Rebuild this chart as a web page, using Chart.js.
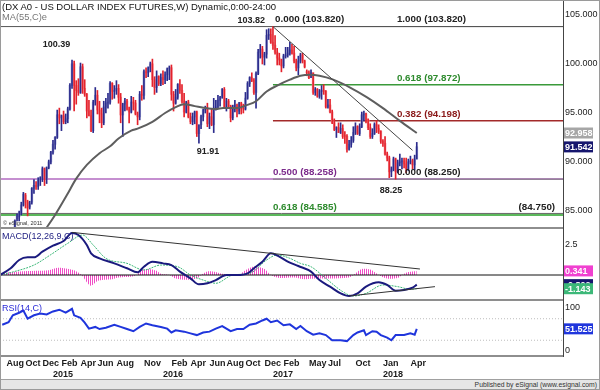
<!DOCTYPE html>
<html>
<head>
<meta charset="utf-8">
<title>US Dollar Index Futures - weekly</title>
<script src="https://cdn.jsdelivr.net/npm/chart.js@4.4.1/dist/chart.umd.min.js"></script>
<style>
  html, body { margin:0; padding:0; background:#fff; }
  #wrap { position:relative; width:600px; height:390px; overflow:hidden; font-family:"Liberation Sans", Arial, sans-serif; background:#fff; }
  #wrap canvas { position:absolute; left:0; }
  .t { position:absolute; white-space:nowrap; line-height:11px; }
  .sep { position:absolute; left:0; width:563px; height:2px; background:#8e8e8e; }
</style>
</head>
<body>
<div id="wrap">
  <canvas id="cPrice" width="600" height="228" style="top:0"></canvas>
  <canvas id="cMacd" width="600" height="72" style="top:228px"></canvas>
  <canvas id="cRsi" width="600" height="79" style="top:300px"></canvas>
  <div class="sep" style="top:227px"></div>
  <div class="sep" style="top:299px"></div>
  <div class="sep" style="top:355px"></div>
  <div class="t" style="left:2px;top:1px;font-size:9.5px;color:#111">(DX A0 - US DOLLAR INDEX FUTURES,W) Dynamic,0:00-24:00</div>
  <div class="t" style="left:2px;top:12px;font-size:9.3px;color:#777">MA(55,C)e</div>
  <div class="t" style="left:3px;top:218px;font-size:5.6px;color:#333">© eSignal, 2011</div>
  <div class="t" style="left:2px;top:231px;font-size:9px;color:#1c1c80">MACD(12,26,9,C)</div>
  <div class="t" style="left:2px;top:303px;font-size:9px;color:#2a2ad8">RSI(14,C)</div>
  <div style="position:absolute;left:0;top:379px;width:600px;height:11px;background:#e6e6e6;border-top:1px solid #a0a0a0;"></div>
  <div class="t" style="right:3px;top:379px;font-size:6.8px;color:#333">Published by eSignal (www.esignal.com)</div>
  <div style="position:absolute;left:0;top:0;width:600px;height:390px;box-sizing:border-box;border:1px solid #9a9a9a;pointer-events:none;"></div>
</div>
<script>
// ---------------- DATA ----------------
const WEEK0 = '2014-07-07';      // week number 0 of the x axis
const FIRST_BAR_WEEK = 7;         // first bar: week of 2014-08-25

const opens = [
  82.4,82.8,84.2,84.4,84.8,85.6,86.6,85.9,85.4,85.9,87.3,87.6,87.5,88.3,88.4,89.3,88.4,89.4,90.0,
  91.0,91.8,92.5,94.8,94.5,94.7,94.1,94.4,95.4,97.8,100.0,97.8,97.3,97.1,99.7,97.5,96.9,95.2,94.7,93.2,96.1,96.8,95.3,94.9,94.0,95.6,96.0,96.1,98.0,97.2,97.3,97.5,96.6,94.8,95.9,96.2,95.4,95.1,96.1,96.0,94.9,94.6,96.9,96.8,99.2,99.1,99.6,100.0,98.4,97.6,98.7,98.0,
  98.6,98.4,98.9,99.5,99.6,96.9,96.0,96.6,97.9,97.3,96.2,95.1,96.1,94.6,94.1,94.6,95.1,92.9,93.8,94.6,95.3,95.5,93.9,94.6,93.8,95.4,95.6,96.3,96.6,97.4,95.6,96.2,95.7,94.5,95.6,95.8,95.2,96.0,95.5,95.4,96.5,98.0,98.6,98.3,97.1,99.0,101.2,101.5,100.7,101.0,102.9,103.0,
  102.2,101.9,101.2,100.6,100.4,99.8,100.8,100.9,101.1,101.4,101.1,100.3,99.6,100.3,100.9,100.3,99.2,99.1,98.6,99.1,97.1,97.4,96.7,97.2,97.3,97.2,95.6,95.8,95.1,94.0,93.3,93.5,93.0,93.4,92.7,92.6,91.3,91.8,92.2,93.0,93.6,92.9,93.6,94.8,94.9,94.3,93.5,92.6,92.9,93.8,93.4,93.1,
  92.1,91.9,90.8,90.4,89.0,89.2,90.3,89.0,89.9,90.0,90.1,89.8,89.3,90.0,90.1,89.7,90.3
];
const highs = [
  82.8,84.1,84.7,85.0,85.9,86.9,86.8,86.1,86.0,87.4,88.2,88.0,88.4,88.5,89.5,89.4,89.5,90.2,91.1,
  92.2,92.6,95.3,95.5,94.8,95.2,94.9,95.6,98.0,100.39,100.3,98.3,98.5,100.1,100.0,98.4,97.0,96.3,95.3,96.3,97.6,97.3,96.2,95.5,96.2,96.5,97.0,98.2,98.1,97.8,98.3,97.9,97.0,96.0,96.5,96.4,95.6,96.7,96.6,96.3,95.1,97.2,97.8,99.4,99.6,99.7,100.2,100.5,98.7,99.3,98.8,99.0,
  99.3,99.2,99.6,99.8,99.9,97.2,97.4,98.0,98.4,97.9,97.0,96.2,96.3,95.0,95.0,95.2,95.2,93.8,94.8,95.4,95.7,96.0,95.0,95.4,96.5,96.3,96.8,96.7,97.5,97.6,96.5,96.4,95.8,95.8,96.3,95.9,96.1,96.1,95.9,97.1,98.2,98.7,99.1,98.5,99.2,101.5,102.0,101.8,101.2,103.5,103.6,103.6,
  103.82,102.9,101.6,101.1,100.5,101.0,101.7,101.7,102.2,102.0,101.8,100.5,100.8,101.1,101.1,100.4,99.4,99.3,99.4,99.1,97.6,97.5,97.4,97.8,97.9,97.3,96.4,96.4,95.3,94.4,93.6,94.0,94.0,93.8,93.1,92.8,92.2,92.6,93.6,94.0,93.7,93.9,95.1,95.2,95.0,94.4,93.9,93.4,94.0,94.2,93.8,93.2,
  92.3,92.6,91.0,90.6,89.5,90.5,90.4,90.2,90.8,90.4,90.4,90.4,90.3,90.6,90.3,90.7,92.0
];
const lows = [
  82.3,82.7,84.0,84.0,84.6,85.5,85.3,84.5,85.2,85.7,86.8,87.2,87.2,87.6,88.0,87.6,87.8,89.3,89.8,
  90.8,91.3,92.4,93.9,93.2,93.9,93.9,94.0,95.3,97.5,95.2,95.9,96.8,97.0,97.0,96.7,94.5,94.7,93.1,93.0,95.8,94.9,94.0,93.5,93.8,95.0,95.5,95.9,96.4,96.5,96.9,96.0,94.0,92.6,95.2,95.3,94.0,95.0,95.3,94.8,93.8,94.3,96.3,96.4,98.6,98.7,99.2,97.7,96.9,97.1,97.8,97.8,
  97.9,98.0,98.3,98.4,96.3,95.2,95.9,96.4,97.0,96.0,94.6,95.0,94.5,93.9,93.8,93.9,92.6,91.91,93.4,94.2,95.0,93.6,93.4,93.7,93.0,95.3,95.5,95.7,96.5,95.5,95.2,95.5,94.1,94.3,95.1,94.6,94.9,94.9,95.0,95.3,96.4,97.7,98.2,96.9,95.5,98.9,100.6,100.0,99.9,100.6,102.5,102.1,
  101.5,101.0,99.9,99.9,99.2,99.6,100.6,100.7,100.9,101.0,100.1,99.3,98.9,100.1,100.1,99.6,98.8,98.5,98.6,96.9,96.8,96.6,96.5,96.4,96.9,95.5,95.5,95.0,93.9,93.2,92.5,93.0,92.9,92.4,91.9,91.0,91.2,91.5,92.0,92.8,92.8,92.7,93.5,94.2,94.0,93.3,92.4,92.4,92.8,93.0,92.9,91.9,
  91.6,90.7,90.1,88.4,88.5,89.1,88.25,88.9,89.6,89.3,89.4,88.9,89.1,89.8,89.3,89.2,90.3
];
const closes = [
  82.75,84.0,84.5,84.8,85.6,86.7,85.9,85.3,85.8,87.3,87.6,87.5,88.3,88.4,89.3,88.4,89.4,90.0,91.0,
  91.8,92.5,94.8,94.5,94.7,94.1,94.4,95.4,97.8,100.0,97.8,97.3,97.1,99.7,97.5,96.9,95.2,94.7,93.2,96.1,96.8,95.3,94.9,94.0,95.6,96.0,96.1,98.0,97.2,97.3,97.5,96.6,94.8,95.9,96.2,95.4,95.1,96.1,96.0,94.9,94.6,96.9,96.8,99.2,99.1,99.6,100.0,98.4,97.6,98.7,98.0,98.6,
  98.4,98.9,99.5,99.6,96.9,96.0,96.6,97.9,97.3,96.2,95.1,96.1,94.6,94.1,94.6,95.1,92.9,93.8,94.6,95.3,95.5,93.9,94.6,93.8,95.4,95.6,96.3,96.6,97.4,95.6,96.2,95.7,94.5,95.6,95.8,95.2,96.0,95.5,95.4,96.5,98.0,98.6,98.3,97.1,99.0,101.2,101.5,100.7,101.0,102.9,103.0,102.2,
  101.9,101.2,100.6,100.4,99.8,100.8,100.9,101.1,101.4,101.1,100.3,99.6,100.3,100.9,100.3,99.7,99.1,98.6,99.1,97.1,97.4,96.7,97.2,97.3,97.2,95.6,95.8,95.1,94.0,93.3,93.5,93.0,93.4,92.6,92.6,91.3,91.8,92.2,93.0,93.6,92.9,93.6,94.8,94.9,94.3,93.5,92.6,92.9,93.8,93.4,93.1,92.1,
  91.9,90.8,90.4,89.0,89.2,90.3,89.0,89.9,90.0,90.1,89.8,89.3,90.0,90.1,89.7,90.3,91.542
];

// MA(55): [week number] / value
const maWeeks  = [22,27,32.5,37,42,48,53,57,63,66,73,79,84,88,93,98,103,106.5,113,117.5,122,127,132,138,143,147.5,152,158.5,166.5,174.5,182,190,198];
const maValues = [83.0,84.6,86.6,88.3,89.7,90.9,91.6,92.4,93.2,93.4,94.1,95.0,95.6,95.9,95.7,95.5,95.4,95.5,95.5,95.8,96.2,97.2,97.8,98.4,98.8,98.9,98.8,98.4,97.6,96.6,95.5,94.2,92.958];

// MACD(12,26,9)
const macdWeeks  = [1,6,10,14,17,21,26,31,35,38,42,44,48,55,61,66,69,73,78,82,86,91,95,99,103,108,113,118,121,125,129,133,137,142,148,152,157,162,166,170,174,180,184,188,192,196,198];
const macdValues = [0,0.56,1.25,1.47,1.47,1.94,2.44,2.83,3.5,3.33,2.5,1.81,1.39,0.97,0.56,0.22,0.69,1.11,0.97,0.83,0.28,-0.28,-0.78,-0.69,-0.42,0,0,0.14,0.56,1.11,1.81,1.53,1.11,0.75,0.28,-0.42,-0.97,-1.53,-1.75,-1.53,-0.97,-0.61,-0.83,-1.31,-1.25,-1.06,-0.802];
const signalWeeks  = [1,8,17,25,33,40,45,51,61,69,77,85,91,97,103,111,119,127,132,138,143,148,155,163,168,174,182,189,195,198];
const signalValues = [0,0.3,0.83,1.7,2.64,3.33,2.5,1.39,0.97,0.42,0.83,0.69,0,-0.42,-0.69,0,0.14,1.25,1.67,1.39,0.97,0.69,-0.28,-1.39,-1.75,-1.53,-0.83,-0.97,-1.19,-1.143];
const histWeeks  = [1,4,10,18,24,28,32,36,39.5,42,44,47,50,54,57,63,65.5,68,71,75,77,81,84,89,94,96,99,103,106,114,117,121,126,129,133,140,145,150,157,166,168,172,176,180,184,189,191,194,198];
const histValues = [0,0.2,0.3,0.35,0.4,0.6,0.55,0.4,0,-0.6,-0.9,-0.5,-0.4,-0.35,-0.2,-0.15,0,0.4,0.5,0.35,0.1,0,-0.3,-0.4,-0.3,0,0.3,0.25,0.1,0.05,0.4,0.7,0.5,0,-0.25,-0.2,-0.35,-0.3,-0.3,-0.2,0,0.5,0.45,0,-0.3,-0.25,0,0.25,0.341];

// RSI(14)
const rsiWeeks  = [2,5,7,10,12,14,17,20,23,26,29,32,35,36,39,41,43,46,48,51,55,58,61,64,67,70,73,77,80,82,84,88,91,94,97,100,103,106,110,113,116,119,122,125,127,129,132,135,138,141,143,146,149,152,155,158,162,165,168,170,173,174,177,179,181,184,186,188,192,195,197,198];
const rsiValues = [61,67,83,89,94,75,83,87,85,92,96,89,98,83,77,66,52,56,51,54,61,56,51,46,56,64,60,56,52,43,48,45,41,37,43,45,52,58,46,51,51,61,64,71,75,67,71,60,62,51,58,46,38,41,37,25,25,23,37,43,48,37,46,45,37,31,25,37,37,41,38,51.525];

// Fibonacci levels
const fibRatiosA = [0.000, 0.382, 0.618, 1.000];        // 103.82 -> 88.25 retracement
const fibLevelsA = [88.250, 94.198, 97.872, 103.820];
const fibRatiosB = [0.000, 0.500, 0.618];               // long-term retracement
const fibLevelsB = [103.820, 88.258, 84.585];
const extraLevel = 84.750;

// trendlines: [week, value]
const priceTrend = [[130, 103.82], [196, 91.19]];
const macdTrendUpper = [[35, 3.55], [199.5, 0.5]];
const macdTrendLower = [[166, -1.75], [206.6, -0.97]];

// axis ticks
const priceTicks = [85, 90, 95, 100, 105];
const macdTicks = [2.5];
const rsiTicks = [0, 100];
const rsiBands = [75, 25];
const monthTickDates  = ['2014-08','2014-10','2014-12','2015-02','2015-04','2015-06','2015-08','2015-11','2016-02','2016-04','2016-06','2016-08','2016-10','2016-12','2017-02','2017-05','2017-07','2017-10','2018-01','2018-04'];
const monthTickLabels = ['Aug','Oct','Dec','Feb','Apr','Jun','Aug','Nov','Feb','Apr','Jun','Aug','Oct','Dec','Feb','May','Jul','Oct','Jan','Apr'];
const yearTickDates  = ['2015-01','2016-01','2017-01','2018-01'];
const yearTickLabels = ['2015','2016','2017','2018'];

// ---------------- LAYOUT / STYLE ----------------
const X_MIN = 0.9456, X_MAX = 267.14;
const AXIS_W = 37;
const FONT = '"Liberation Sans", Arial, sans-serif';
Chart.defaults.font.family = FONT;
Chart.defaults.color = '#222';
Chart.defaults.animation = false;

const DAY = 86400000;
function monthWeek(ym) {
  const d = Date.UTC(+ym.slice(0,4), +ym.slice(5,7) - 1, 1);
  return Math.ceil((d - Date.parse(WEEK0)) / (7 * DAY));
}
const pts = (ks, vs) => ks.map((k, i) => ({x: k, y: vs[i]}));
const seg = (p) => p.map(([k, v]) => ({x: k, y: v}));
const hline = (v, from, to) => [{x: from, y: v}, {x: to, y: v}];

function lineDS(data, color, width, order, extra) {
  return Object.assign({type: 'line', data, borderColor: color, borderWidth: width, pointRadius: 0,
    fill: false, tension: 0, order}, extra || {});
}

const xHidden = () => ({type: 'linear', min: X_MIN, max: X_MAX, offset: false, display: false, grid: {offset: false}});
function yRight(min, max, ticks, fmt) {
  return {
    type: 'linear', position: 'right', min, max,
    grid: {display: false, drawTicks: false},
    border: {display: true, color: '#444', width: 1},
    afterBuildTicks: s => { s.ticks = ticks.map(v => ({value: v})); },
    afterFit: s => { s.width = AXIS_W; s.paddingTop = 0; s.paddingBottom = 0; },
    ticks: {padding: 2, color: '#222', font: {size: 9}, autoSkip: false, callback: v => fmt(v)}
  };
}

function notesPlugin(items) {
  return { id: 'notes', afterDatasetsDraw(chart) {
    const {ctx, scales: {x, y}} = chart;
    items.forEach(n => {
      ctx.save();
      ctx.font = n.font; ctx.fillStyle = n.color;
      ctx.textAlign = n.align || 'left'; ctx.textBaseline = n.base || 'bottom';
      ctx.fillText(n.text, x.getPixelForValue(n.k), y.getPixelForValue(n.v) + (n.dy || 0));
      ctx.restore();
    });
  }};
}
function boxesPlugin(items) {
  return { id: 'valueBoxes', afterDraw(chart) {
    const {ctx, chartArea, scales: {y}} = chart;
    items.forEach(b => {
      const py = y.getPixelForValue(b.value);
      ctx.save();
      ctx.fillStyle = b.bg;
      ctx.fillRect(chartArea.right + 1, py - 5.5, 29, 11);
      ctx.fillStyle = b.fg || '#fff';
      ctx.font = 'bold 9px ' + FONT;
      ctx.textAlign = 'left'; ctx.textBaseline = 'middle';
      ctx.fillText(b.text, chartArea.right + 2, py + 0.5);
      ctx.restore();
    });
  }};
}

// ---------------- PRICE PANEL ----------------
const barWeeks = opens.map((_, i) => FIRST_BAR_WEEK + i);
const isUp = opens.map((o, i) => closes[i] >= o);
const bodyData = opens.map((o, i) => ({x: barWeeks[i], y: [Math.min(o, closes[i]), Math.max(o, closes[i]) + 0.02]}));
const wickData = opens.map((o, i) => ({x: barWeeks[i], y: [lows[i], highs[i]]}));

const fibColorsA = ['#7a7a7a', '#a32a2a', '#3a9a3a', '#555555'];
const fibTextA   = ['#222222', '#8b1a1a', '#2e8b2e', '#222222'];
const fibColorsB = ['#555555', '#c58fd0', '#5cb85c'];
const fibTextB   = ['#222222', '#7b2a8b', '#2e8b2e'];
const fibWidthA  = [1, 1.5, 1.5, 1];
const fibWidthB  = [1, 2, 2];
const FIB_A_START = 130;

const fibDatasets = [];
fibLevelsA.forEach((lv, i) => fibDatasets.push(lineDS(hline(lv, FIB_A_START, X_MAX), fibColorsA[i], fibWidthA[i], 10)));
fibLevelsB.forEach((lv, i) => fibDatasets.push(lineDS(hline(lv, X_MIN, X_MAX), fibColorsB[i], fibWidthB[i], 11)));
fibDatasets.push(lineDS(hline(extraLevel, X_MIN, X_MAX), '#666666', 1, 12));

const fmtFib = (r, lv) => r.toFixed(3) + ' (' + lv.toFixed(3) + ')';
const B9 = 'bold 9px ' + FONT, B10 = 'bold 9.8px ' + FONT;
const peakHigh = Math.max(...highs);
const high2015 = Math.max(...highs.slice(0, 60));
const low2016 = Math.min(...lows.slice(60, 130));
const low2018 = Math.min(...lows.slice(150));
const priceNotes = [
  {text: peakHigh.toFixed(2), k: 126.2, v: peakHigh, align: 'right', dy: -2, font: B9, color: '#222'},
  {text: fmtFib(fibRatiosB[0], fibLevelsB[0]), k: 131, v: fibLevelsB[0], dy: -2, font: B10, color: fibTextB[0]},
  {text: fmtFib(fibRatiosB[1], fibLevelsB[1]), k: 130, v: fibLevelsB[1], dy: -2, font: B10, color: fibTextB[1]},
  {text: fmtFib(fibRatiosB[2], fibLevelsB[2]), k: 130, v: extraLevel, dy: -1, font: B10, color: fibTextB[2]},
  {text: '(' + extraLevel.toFixed(3) + ')', k: 263.4, v: extraLevel, align: 'right', dy: -1, font: B10, color: '#222'},
  {text: high2015.toFixed(2), k: 27.7, v: 101.94, align: 'center', base: 'middle', font: B9, color: '#222'},
  {text: low2016.toFixed(2), k: 99.3, v: 91.02, align: 'center', base: 'middle', font: B9, color: '#222'},
  {text: low2018.toFixed(2), k: 185.8, v: 87.14, align: 'center', base: 'middle', font: B9, color: '#222'}
];
fibLevelsA.forEach((lv, i) => priceNotes.push({text: fmtFib(fibRatiosA[i], lv), k: 188.6, v: lv, dy: -2, font: B10, color: fibTextA[i]}));

new Chart(document.getElementById('cPrice'), {
  type: 'bar',
  data: { datasets: [
    {type: 'bar', data: bodyData, backgroundColor: isUp.map(u => u ? '#aab1da' : '#f6a3ab'), barThickness: 2, grouped: false, borderWidth: 0, order: 6},
    {type: 'bar', data: wickData, backgroundColor: isUp.map(u => u ? '#2b2b8c' : '#e4222c'), barThickness: 1, grouped: false, borderWidth: 0, order: 5},
    lineDS(pts(maWeeks, maValues), '#5e5e5e', 2, 2, {tension: 0.4, cubicInterpolationMode: 'monotone'}),
    lineDS(seg(priceTrend), '#444444', 1, 1),
    ...fibDatasets
  ]},
  options: {
    responsive: false, events: [], layout: {padding: 0},
    plugins: {legend: {display: false}, tooltip: {enabled: false}},
    scales: { x: xHidden(), y: yRight(83.265, 106.531, priceTicks, v => v.toFixed(3)) }
  },
  plugins: [notesPlugin(priceNotes), boxesPlugin([
    {value: maValues[maValues.length - 1], text: maValues[maValues.length - 1].toFixed(3), bg: '#a6a6a6'},
    {value: closes[closes.length - 1], text: closes[closes.length - 1].toFixed(3), bg: '#16166e'}
  ])]
});

// ---------------- MACD PANEL ----------------
function stripePattern(color) {
  const c = document.createElement('canvas'); c.width = 2; c.height = 1;
  const g = c.getContext('2d'); g.fillStyle = color; g.fillRect(0, 0, 1, 1);
  return g.createPattern(c, 'repeat');
}
new Chart(document.getElementById('cMacd'), {
  type: 'line',
  data: { datasets: [
    lineDS(pts(histWeeks, histValues), 'rgba(0,0,0,0)', 0, 6, {fill: 'origin', backgroundColor: stripePattern('#f04cc6'), tension: 0.3}),
    lineDS(hline(0, X_MIN, X_MAX), '#111111', 1, 5),
    lineDS(pts(signalWeeks, signalValues), '#3cb878', 1, 4, {borderDash: [2, 1], tension: 0.35, cubicInterpolationMode: 'monotone'}),
    lineDS(pts(macdWeeks, macdValues), '#1a1a7e', 2, 3, {tension: 0.35, cubicInterpolationMode: 'monotone'}),
    lineDS(seg(macdTrendUpper), '#333333', 1, 1),
    lineDS(seg(macdTrendLower), '#333333', 1, 1)
  ]},
  options: {
    responsive: false, events: [], layout: {padding: 0},
    plugins: {legend: {display: false}, tooltip: {enabled: false}},
    scales: { x: xHidden(), y: yRight(-2.083, 3.917, macdTicks, v => String(v)) }
  },
  plugins: [boxesPlugin([
    {value: histValues[histValues.length - 1], text: histValues[histValues.length - 1].toFixed(3), bg: '#f040d0'},
    {value: macdValues[macdValues.length - 1], text: macdValues[macdValues.length - 1].toFixed(3), bg: '#16166e'},
    {value: signalValues[signalValues.length - 1], text: signalValues[signalValues.length - 1].toFixed(3), bg: '#3cb878'}
  ])]
});

// ---------------- RSI PANEL + TIME AXIS ----------------
const monthTicks = monthTickDates.map(monthWeek);
const yearTicks = yearTickDates.map(monthWeek);
function timeAxis(ticks, labels, height, pad, weight) {
  return {
    type: 'linear', min: X_MIN, max: X_MAX, offset: false, position: 'bottom', weight,
    grid: {display: false, drawTicks: false, offset: false}, border: {display: false},
    afterBuildTicks: s => { s.ticks = ticks.map(v => ({value: v})); },
    afterFit: s => { s.height = height; s.paddingLeft = 0; s.paddingRight = 0; },
    ticks: {autoSkip: false, maxRotation: 0, minRotation: 0, align: 'start', padding: pad,
            color: '#1a1a1a', font: {size: 9, weight: 'bold'}, callback: (v, i) => labels[i]}
  };
}
new Chart(document.getElementById('cRsi'), {
  type: 'line',
  data: { datasets: [
    lineDS(hline(rsiBands[0], X_MIN, X_MAX), '#bdbdbd', 1, 5, {borderDash: [1, 2]}),
    lineDS(hline(rsiBands[1], X_MIN, X_MAX), '#bdbdbd', 1, 5, {borderDash: [1, 2]}),
    lineDS(pts(rsiWeeks, rsiValues), '#1f35dc', 2, 1)
  ]},
  options: {
    responsive: false, events: [], layout: {padding: 0},
    plugins: {legend: {display: false}, tooltip: {enabled: false}},
    scales: {
      x: timeAxis(monthTicks, monthTickLabels, 13, 2, 0),
      x2: timeAxis(yearTicks, yearTickLabels, 10, 0, 1),
      y: yRight(-11.63, 118.6, rsiTicks, v => String(v))
    }
  },
  plugins: [boxesPlugin([
    {value: rsiValues[rsiValues.length - 1], text: rsiValues[rsiValues.length - 1].toFixed(3), bg: '#1f35dc'}
  ])]
});
</script>
</body>
</html>
